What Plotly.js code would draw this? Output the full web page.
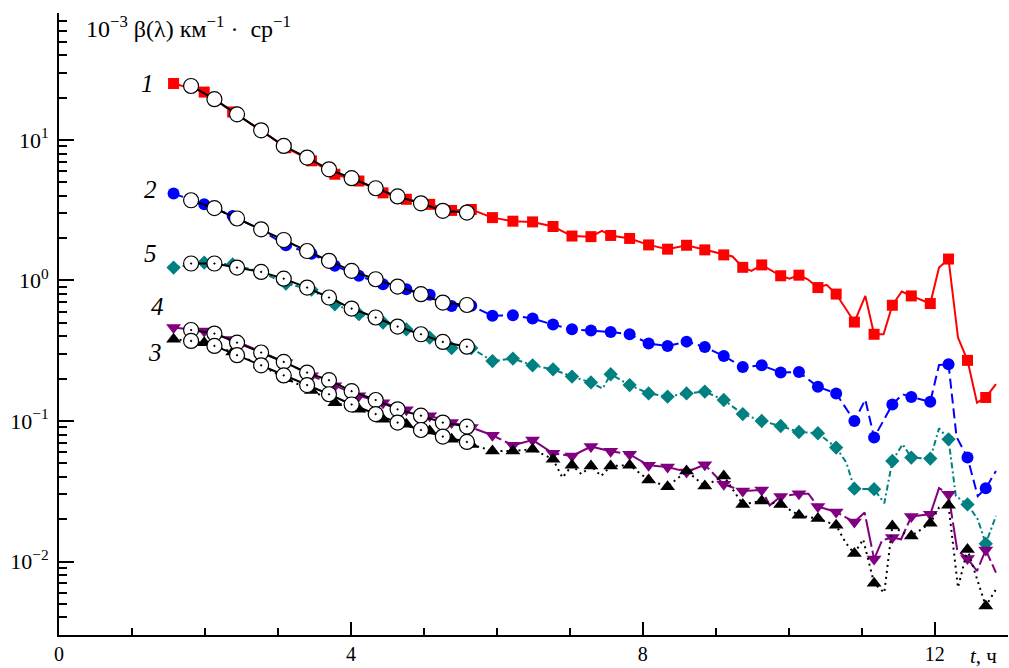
<!DOCTYPE html>
<html><head><meta charset="utf-8">
<script src="https://cdn.plot.ly/plotly-3.0.1.min.js"></script>
<style>html,body{margin:0;padding:0;background:#fff}#chart{width:1009px;height:668px}</style>
</head><body><div id="chart"></div>
<script>
// measurement times (h) where markers are drawn
const markerTimes = [1.57,1.99,2.38,2.76,3.11,3.46,3.78,4.11,4.44,4.76,5.08,5.38,5.65,
  5.94,6.22,6.49,6.77,7.03,7.29,7.56,7.82,8.08,8.34,
  8.60,8.85,9.11,9.37,9.63,9.89,10.14,10.40,10.65,10.90,
  11.17,11.42,11.68,11.94,12.19,12.45,12.70];
// measured beta values (10^-3 km^-1 sr^-1)
const beta1 = [25.2,21.9,15.8,11.8,8.8,7.1,5.7,5.1,4.2,3.78,3.48,3.15,3.2,
  2.80,2.64,2.61,2.42,2.07,2.05,2.09,1.99,1.79,1.67,
  1.78,1.65,1.52,1.24,1.29,1.08,1.09,0.89,0.80,0.506,
  0.414,0.666,0.776,0.685,1.42,0.270,0.147];
const beta2 = [4.15,3.49,2.88,2.3,1.78,1.55,1.27,1.08,0.94,0.866,0.79,0.659,0.66,
  0.56,0.565,0.536,0.485,0.449,0.440,0.430,0.414,0.356,0.342,
  0.367,0.336,0.290,0.242,0.249,0.221,0.223,0.175,0.157,0.100,
  0.0762,0.131,0.148,0.137,0.253,0.0549,0.0332];
const beta5 = [1.235,1.34,1.30,1.15,0.95,0.86,0.677,0.575,0.502,0.449,0.392,0.33,0.33,
  0.267,0.278,0.249,0.233,0.207,0.188,0.215,0.180,0.157,0.149,
  0.157,0.162,0.141,0.112,0.100,0.0921,0.0835,0.0818,0.0647,0.0330,
  0.0327,0.0519,0.0549,0.054,0.0741,0.0255,0.0134];
const beta4 = [0.462,0.437,0.38,0.31,0.26,0.21,0.178,0.151,0.135,0.12,0.109,0.0974,0.09,
  0.0791,0.0671,0.0732,0.0589,0.0564,0.0657,0.0609,0.0579,0.0484,0.0471,
  0.0434,0.0488,0.0354,0.0318,0.0323,0.0290,0.0304,0.0246,0.0225,0.0191,
  0.0104,0.0148,0.0209,0.0217,0.0301,0.0105,0.0121];
const beta3 = [0.382,0.361,0.31,0.25,0.20,0.165,0.135,0.121,0.103,0.0947,0.085,0.0741,0.068,
  0.0612,0.0612,0.0629,0.0534,0.0484,0.0478,0.0478,0.0484,0.0380,0.0341,
  0.0441,0.0345,0.0406,0.0255,0.0270,0.0255,0.0213,0.0202,0.0181,0.0114,
  0.0070,0.0179,0.0152,0.0187,0.0251,0.0122,0.00482];
// intermediate line-only points (no marker)
const extra1T = [7.44,9.23,9.49,10.01,10.26,10.52,11.05,11.30,11.55,12.06,12.32,12.58,12.84];
const extra1V = [2.25,1.48,1.17,1.03,1.02,0.93,0.776,0.414,0.834,1.235,0.392,0.135,0.183];
const extra2T = [11.05,11.56,12.06,12.30,12.59,12.84];
const extra2V = [0.142,0.155,0.25,0.077,0.0292,0.0441];
const extra5T = [7.45,10.79,11.31,11.56,12.06,12.29,12.59,12.84];
const extra5V = [0.170,0.0506,0.026,0.0683,0.0887,0.0292,0.020,0.0211];
const extra4T = [9.74,10.27,11.04,11.28,11.54,12.06,12.31,12.58,12.84];
const extra4V = [0.0251,0.0304,0.0223,0.0142,0.0144,0.0333,0.0120,0.00856,0.00834];
const extra3T = [6.90,7.16,7.43,10.78,11.02,11.31,11.56,12.06,12.32,12.84];
const extra3V = [0.0395,0.0418,0.0406,0.0136,0.0144,0.0060,0.0161,0.0242,0.00652,0.00634];
// model curves (open circles)
const modelTimes = [1.81,2.13,2.44,2.77,3.08,3.40,3.70,4.01,4.34,4.64,4.96,5.26,5.59];
const model1 = [24.2,19.5,15.2,11.7,9.06,7.49,6.18,5.34,4.53,3.96,3.54,3.13,3.04];
const model2 = [3.72,3.27,2.76,2.31,1.94,1.62,1.38,1.17,1.02,0.905,0.798,0.696,0.669];
const model5 = [1.32,1.32,1.235,1.15,1.03,0.890,0.756,0.631,0.545,0.470,0.414,0.365,0.338];
const model4 = [0.444,0.419,0.361,0.307,0.263,0.221,0.195,0.163,0.141,0.121,0.109,0.0974,0.0912];
const model3 = [0.371,0.342,0.294,0.249,0.211,0.180,0.155,0.131,0.112,0.0974,0.0863,0.0775,0.0709];
const seriesLabels = ['1','2','5','4','3'];
const xTickVals = [0,4,8,12];
const xTickText = ['0','4','8','12'];
const yTickVals = [0.01,0.1,1,10];
const yTickText = ['10<sup>−2</sup>','10<sup>−1</sup>','10<sup>0</sup>','10<sup>1</sup>'];

function merged(vals, et, ev) {
  const pts = markerTimes.map((t,i)=>[t,vals[i]]).concat(et.map((t,i)=>[t,ev[i]]));
  pts.sort((a,b)=>a[0]-b[0]);
  return {x: pts.map(p=>p[0]), y: pts.map(p=>p[1])};
}

const series = [
  {v:beta1, et:extra1T, ev:extra1V, color:'#ff0000', dash:'solid', symbol:'square', size:11},
  {v:beta2, et:extra2T, ev:extra2V, color:'#0000ff', dash:'10px,5px', symbol:'circle', size:12},
  {v:beta5, et:extra5T, ev:extra5V, color:'#008080', dash:'6px,3px,2px,3px', symbol:'diamond', size:11},
  {v:beta4, et:extra4T, ev:extra4V, color:'#800080', dash:'28px,4px', symbol:'triangle-down', size:13},
  {v:beta3, et:extra3T, ev:extra3V, color:'#000000', dash:'2px,4px', symbol:'triangle-up', size:13}
];
const traces = [];
series.forEach(s=>{
  const l = merged(s.v, s.et, s.ev);
  traces.push({x:l.x, y:l.y, mode:'lines', line:{color:s.color, width:2, dash:s.dash}, hoverinfo:'skip'});
  traces.push({x:markerTimes, y:s.v, mode:'markers', marker:{color:s.color, symbol:s.symbol, size:s.size, line:{width:0}}});
});
const models = [model1, model2, model5, model4, model3];
models.forEach((m,i)=>{
  traces.push({x:modelTimes, y:m, mode:'lines+markers', line:{color:'#000', width:2},
    marker:{symbol: i<2 ? 'circle' : 'circle-dot', size:15, color:'#fff', line:{color:'#000', width:1.2}}});
});

const yMinor = [];
[0.001,0.01,0.1,1,10].forEach(d=>{ for(let k=2;k<=9;k++){ const v=k*d; if(v>=0.003 && v<=80.01) yMinor.push(v);} });

const labelPos = [[0.0935,0.886],[0.0967,0.716],[0.0967,0.614],[0.104,0.528],[0.101,0.454]];
const annotations = seriesLabels.map((t,i)=>({xref:'paper', yref:'paper', x:labelPos[i][0], y:labelPos[i][1],
  text:'<i>'+t+'</i>', showarrow:false, font:{size:25, family:'Liberation Serif, serif', color:'#000'}, xanchor:'center', yanchor:'middle'}));
annotations.push({xref:'paper', yref:'paper', x:0.026, y:0.977, xanchor:'left', yanchor:'middle', showarrow:false,
  text:'10<sup>−3</sup> β(λ) км<sup>−1</sup> ·  ср<sup>−1</sup>', font:{size:24, family:'Liberation Serif, serif', color:'#000'}});
annotations.push({xref:'paper', yref:'paper', x:0.974, y:-0.034, xanchor:'center', yanchor:'middle', showarrow:false,
  text:'<i>t</i>, ч', font:{size:21, family:'Liberation Serif, serif', color:'#000'}});

const layout = {
  width:1009, height:668,
  margin:{l:59, r:1, t:13, b:33, pad:0},
  paper_bgcolor:'#fff', plot_bgcolor:'#fff',
  showlegend:false,
  font:{family:'Liberation Serif, serif', size:22, color:'#000'},
  xaxis:{range:[0,13.005], showgrid:false, zeroline:false, showline:true, linewidth:2, linecolor:'#000',
    ticks:'inside', ticklen:13, tickwidth:2, tickcolor:'#000', tickmode:'array', tickvals:xTickVals, ticktext:xTickText,
    tickfont:{size:20}, ticklabelstandoff:0,
    minor:{ticks:'inside', ticklen:7, tickwidth:2, tickcolor:'#000', tickmode:'array', tickvals:[1,2,3,5,6,7,9,10,11,13], showgrid:false}},
  yaxis:{type:'log', range:[Math.log10(0.003), Math.log10(80)], showgrid:false, zeroline:false, showline:true, linewidth:2, linecolor:'#000',
    ticks:'inside', ticklen:15, tickwidth:2, tickcolor:'#000', tickmode:'array', tickvals:yTickVals, ticktext:yTickText,
    tickfont:{size:22}, ticklabelstandoff:4,
    minor:{ticks:'inside', ticklen:8, tickwidth:2, tickcolor:'#000', tickmode:'array', tickvals:yMinor, showgrid:false}},
  annotations: annotations
};
Plotly.newPlot('chart', traces, layout, {displayModeBar:false, staticPlot:true});
</script></body></html>
